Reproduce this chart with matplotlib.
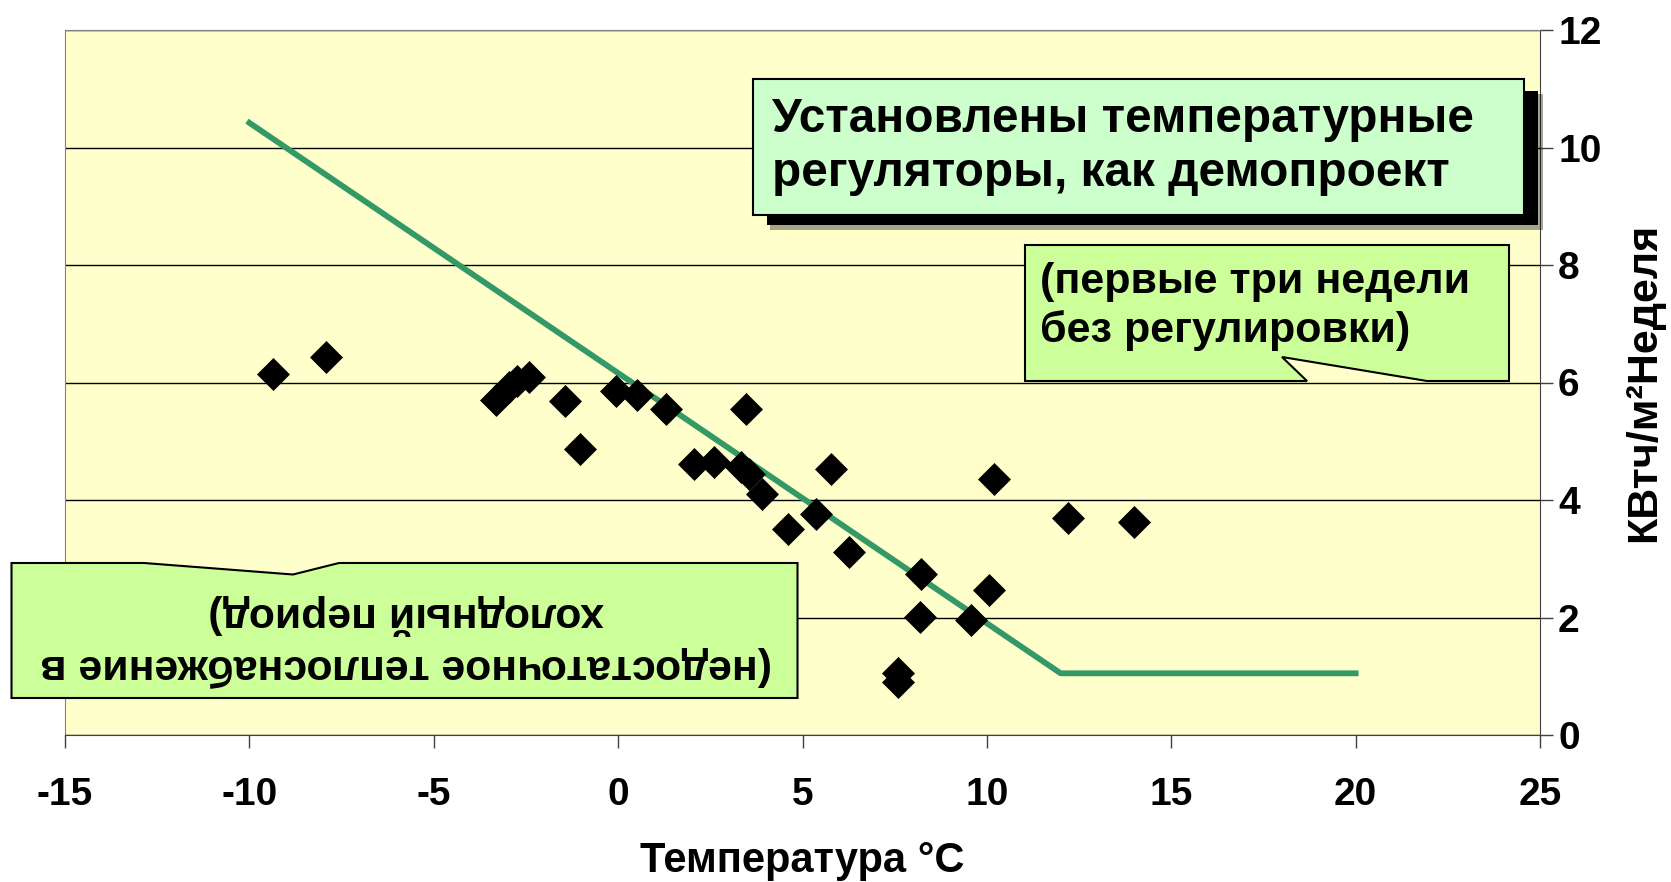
import matplotlib
matplotlib.use("Agg")
import matplotlib.pyplot as plt
from matplotlib.patches import Polygon, Rectangle

plt.rcParams["font.family"] = ["Liberation Sans", "DejaVu Sans"]
plt.rcParams["font.weight"] = "bold"
plt.rcParams["axes.labelweight"] = "bold"
plt.rcParams["axes.unicode_minus"] = False

# weekly heat use against mean outdoor temperature
temperature = [-9.35, -7.93, -3.31, -2.95, -2.75, -2.41, -1.43, -1.03, -0.06, 0.50,
               1.30, 2.05, 2.59, 3.47, 3.34, 3.55, 3.90, 4.60, 5.37, 5.76,
               6.27, 8.20, 8.19, 9.56, 10.07, 10.19, 7.59, 7.59, 12.20, 13.98]
heat_use = [6.14, 6.44, 5.71, 5.93, 6.02, 6.10, 5.69, 4.87, 5.86, 5.79,
            5.55, 4.62, 4.65, 5.55, 4.57, 4.45, 4.11, 3.50, 3.76, 4.52,
            3.12, 2.74, 2.01, 1.95, 2.46, 4.35, 1.05, 0.91, 3.70, 3.63]

# reference heating curve
curve_temp = [-10, 12, 20]
curve_use = [10.42, 1.05, 1.05]

x_ticks = [-15, -10, -5, 0, 5, 10, 15, 20, 25]
y_ticks = [0, 2, 4, 6, 8, 10, 12]

x_label = "Температура °C"
y_label = "КВтч/м²Неделя"
note_top = ["Установлены температурные", "регуляторы, как демопроект"]
note_mid = ["(первые три недели", "без регулировки)"]
note_low = ["(недостаточное теплоснабжение в", "холодный период)"]

W, H = 1671, 882
fig = plt.figure(figsize=(W / 100, H / 100), dpi=100)
ax = fig.add_axes([65 / W, 1 - 735 / H, (1540 - 65) / W, (735 - 30) / H])
ax.set_facecolor("#FFFFCC")

ax.plot(curve_temp, curve_use, color="#339966", lw=4.2, zorder=3)
ax.plot(temperature, heat_use, ls="none", marker="D", color="black",
        ms=16.5, mew=0.5, zorder=4)

ax.set_xlim(-15, 25)
ax.set_ylim(0, 12)
ax.set_xticks(x_ticks)
ax.set_yticks(y_ticks)
ax.yaxis.grid(True, color="black", lw=1.0)
ax.set_axisbelow(True)

ax.tick_params(axis="x", direction="out", length=9, width=1, color="#404040",
               pad=21, labelsize=28)
ax.tick_params(axis="y", left=False, right=True, labelleft=False, labelright=True,
               direction="out", length=9, width=1, color="#404040",
               pad=4, labelsize=28)

ax.spines["left"].set_color("#808080")
ax.spines["top"].set_color("#808080")
ax.spines["right"].set_color("#404040")
ax.spines["bottom"].set_color("#404040")

ax.set_xlabel(x_label, fontsize=30)
ax.xaxis.set_label_coords(0.5, -0.15)
ax.yaxis.set_label_position("right")
ax.set_ylabel(y_label, fontsize=31)
ax.yaxis.set_label_coords(1.0570, 0.5)

# callouts, drawn on a pixel-space overlay
ov = fig.add_axes([0, 0, 1, 1], zorder=5)
ov.set_xlim(0, W)
ov.set_ylim(H, 0)
ov.axis("off")
ov.patch.set_visible(False)

ov.add_patch(Rectangle((770, 94), 773, 136, fc="black", ec="none", alpha=0.35))
ov.add_patch(Rectangle((767, 91), 771, 134, fc="black", ec="none"))
ov.add_patch(Rectangle((753, 79), 771, 136, fc="#CCFFCC", ec="black", lw=1.5))
ov.text(772, 132, note_top[0], fontsize=34.4, ha="left", va="baseline")
ov.text(772, 186, note_top[1], fontsize=34.4, ha="left", va="baseline")

ov.add_patch(Polygon([(1025, 245), (1509, 245), (1509, 381), (1427, 381),
                      (1282, 357), (1307, 381), (1025, 381)],
                     closed=True, fc="#CCFF99", ec="black", lw=1.5))
ov.text(1040, 293, note_mid[0], fontsize=31, ha="left", va="baseline")
ov.text(1040, 342, note_mid[1], fontsize=31, ha="left", va="baseline")

ov.add_patch(Polygon([(11.5, 563), (144, 563), (293, 574.5), (339, 563),
                      (797.5, 563), (797.5, 698), (11.5, 698)],
                     closed=True, fc="#CCFF99", ec="black", lw=1.5))
ov.text(406, 655, note_low[0], fontsize=30.8, rotation=180, rotation_mode="anchor",
        ha="center", va="baseline")
ov.text(406, 603, note_low[1], fontsize=30.8, rotation=180, rotation_mode="anchor",
        ha="center", va="baseline")

fig.savefig("out.png", dpi=100)
